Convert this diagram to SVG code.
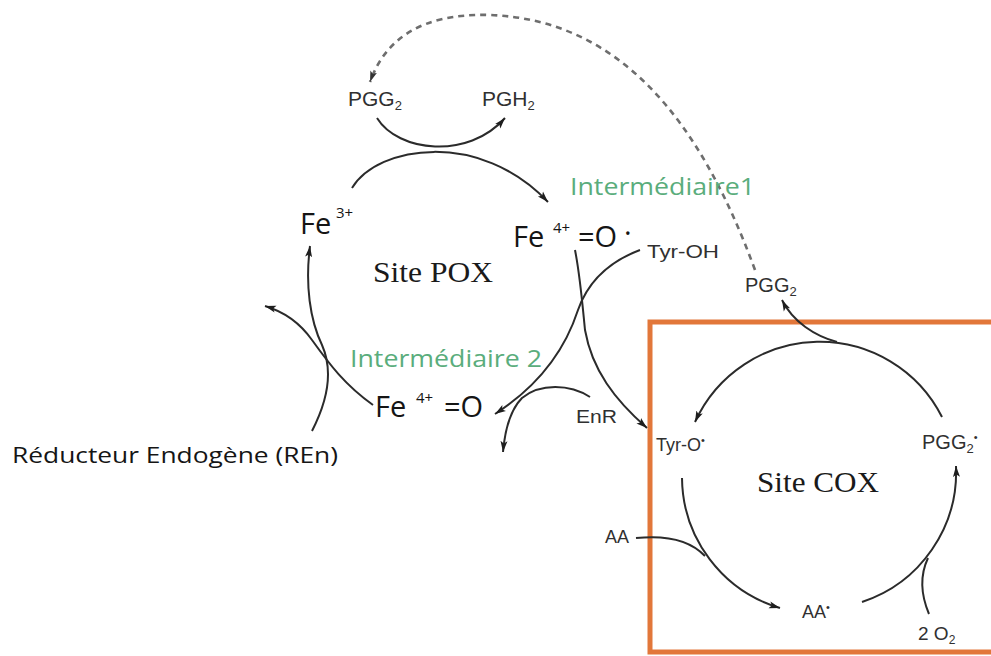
<svg xmlns="http://www.w3.org/2000/svg" width="991" height="656" viewBox="0 0 991 656">
<defs>
<style>
.ln{fill:none;stroke:#2b2b2b;stroke-width:2}
.dash{fill:none;stroke:#6e6e6e;stroke-width:2.6;stroke-dasharray:6 5}
.fe{font-family:"Open Sans","Liberation Sans",sans-serif;fill:#151515}
.sm{font-family:"Liberation Sans",Arial,sans-serif;fill:#303030}
.site{font-family:"Liberation Serif","Times New Roman",serif;fill:#1a1a1a}
.grn{font-family:"Open Sans","Liberation Sans",sans-serif;fill:#5aad7c}
</style>
<marker id="ah" markerUnits="userSpaceOnUse" markerWidth="13" markerHeight="9" refX="11" refY="4" orient="auto">
<path d="M0,0.5 L11,4 L0,7.5 L2.5,4 z" fill="#1e1e1e"/>
</marker>
<marker id="ahg" markerUnits="userSpaceOnUse" markerWidth="13" markerHeight="9" refX="11" refY="4" orient="auto">
<path d="M0,0.5 L11,4 L0,7.5 L2.5,4 z" fill="#333"/>
</marker>
</defs>
<rect width="991" height="656" fill="#ffffff"/>

<g id="cox-box">
<rect x="650" y="322" width="380" height="330" fill="none" stroke="#e2773a" stroke-width="5"/>
</g>

<g id="connectors">
<path class="dash" d="M755,270 C700,120 620,20 490,15 C420,13 385,40 370,82" marker-end="url(#ahg)"/>
<path class="ln" d="M377,118 C398,152 468,160 505,118" marker-end="url(#ah)"/>
<path class="ln" d="M352,188 C378,145 480,130 548,202" marker-end="url(#ah)"/>
<path class="ln" d="M312,431 C328,400 333,370 322,345 C310,320 305,285 310,246" marker-end="url(#ah)"/>
<path class="ln" d="M373,405 C345,385 330,365 312,340 C300,323 285,312 265,306" marker-end="url(#ah)"/>
<path class="ln" d="M640,250 C600,265 585,290 578,310 C565,350 540,385 495,414" marker-end="url(#ah)"/>
<path class="ln" d="M590,397 C570,384 540,383 522,398 C510,410 505,430 503,452" marker-end="url(#ah)"/>
<path class="ln" d="M575,250 C580,275 582,300 585,330 C592,370 615,400 647,428" marker-end="url(#ah)"/>
<path class="ln" d="M942,417 A137,137 0 0 0 695,422" marker-end="url(#ah)"/>
<path class="ln" d="M837,342 C815,336 793,322 782,300" marker-end="url(#ah)"/>
<path class="ln" d="M682,478 A137,137 0 0 0 780,608" marker-end="url(#ah)"/>
<path class="ln" d="M636,538 C665,535 690,540 705,556"/>
<path class="ln" d="M862,602 A137,137 0 0 0 956,466" marker-end="url(#ah)"/>
<path class="ln" d="M929,614 C921,595 920,575 928,558"/>
</g>

<g id="pgg2-top"><text class="sm" x="348" y="106" font-size="21">PGG<tspan font-size="13" dy="4">2</tspan></text></g>
<g id="pgh2"><text class="sm" x="482" y="106" font-size="21">PGH<tspan font-size="13" dy="4">2</tspan></text></g>
<g id="intermediaire1"><text class="grn" x="570" y="195" font-size="23" textLength="185" lengthAdjust="spacingAndGlyphs">Intermédiaire1</text></g>
<g id="fe3"><text class="fe" x="300" y="234" font-size="29">Fe</text><text class="fe" x="336" y="218" font-size="15">3+</text></g>
<g id="fe4-radical"><text class="fe" x="513" y="247" font-size="29">Fe</text><text class="fe" x="553" y="233" font-size="15">4+</text><text class="fe" x="578" y="247" font-size="29">=O</text><text class="fe" x="624" y="243" font-size="29">·</text></g>
<g id="tyr-oh"><text class="sm" x="647" y="258" font-size="19" textLength="72" lengthAdjust="spacingAndGlyphs">Tyr-OH</text></g>
<g id="site-pox"><text class="site" x="373" y="282" font-size="30" textLength="120" lengthAdjust="spacingAndGlyphs">Site POX</text></g>
<g id="pgg2-right"><text class="sm" x="745" y="292" font-size="20">PGG<tspan font-size="13" dy="4">2</tspan></text></g>
<g id="intermediaire2"><text class="grn" x="350" y="367" font-size="23" textLength="192" lengthAdjust="spacingAndGlyphs">Intermédiaire 2</text></g>
<g id="fe4"><text class="fe" x="375" y="417" font-size="29">Fe</text><text class="fe" x="416" y="403" font-size="15">4+</text><text class="fe" x="444" y="417" font-size="29">=O</text></g>
<g id="enr"><text class="sm" x="576" y="423" font-size="18" textLength="41" lengthAdjust="spacingAndGlyphs">EnR</text></g>
<g id="ren"><text class="fe" x="12" y="463" font-size="22" textLength="326" lengthAdjust="spacingAndGlyphs">Réducteur Endogène (REn)</text></g>
<g id="tyr-o"><text class="sm" x="656" y="451" font-size="18">Tyr-O<tspan font-size="11" dy="-7">•</tspan></text></g>
<g id="pgg2-rad"><text class="sm" x="922" y="449" font-size="20">PGG<tspan font-size="13" dy="4">2</tspan><tspan font-size="11" dy="-12">•</tspan></text></g>
<g id="site-cox"><text class="site" x="757" y="492" font-size="30" textLength="122" lengthAdjust="spacingAndGlyphs">Site COX</text></g>
<g id="aa"><text class="sm" x="605" y="543" font-size="18">AA</text></g>
<g id="aa-rad"><text class="sm" x="802" y="618" font-size="18">AA<tspan font-size="11" dy="-7">•</tspan></text></g>
<g id="o2"><text class="sm" x="918" y="640" font-size="19">2 O<tspan font-size="12" dy="4">2</tspan></text></g>
</svg>
